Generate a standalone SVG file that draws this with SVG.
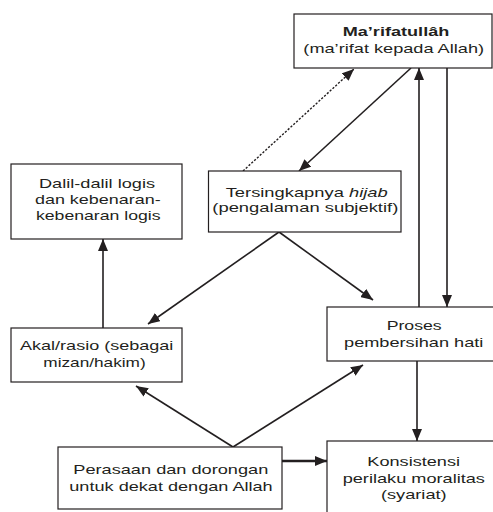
<svg xmlns="http://www.w3.org/2000/svg" width="493" height="512" viewBox="0 0 493 512">
<defs>
<style>
.box{fill:#fff;stroke:#231f20;stroke-width:1.2}
.t{font-family:"Liberation Sans",Arial,sans-serif;font-size:13.6px;fill:#231f20;text-anchor:middle}
.b{font-weight:bold}
.c{fill:none;stroke:#231f20;stroke-width:1.6}
.d{stroke-dasharray:2.2 1.6;stroke-width:1.4}
.k{stroke-width:2.6}
</style>
<marker id="ah" viewBox="0 0 12 10" refX="12" refY="5" markerWidth="12" markerHeight="10" markerUnits="userSpaceOnUse" orient="auto">
<path d="M0,0 L12,5 L0,10 Z" fill="#231f20"/>
</marker>
</defs>
<rect width="493" height="512" fill="#fff"/>
<g id="connectors">
<line class="c d" x1="243" y1="171" x2="354" y2="69" marker-end="url(#ah)"/>
<line class="c" x1="411" y1="68" x2="299" y2="171" marker-end="url(#ah)"/>
<line class="c" x1="419" y1="307" x2="419" y2="68" marker-end="url(#ah)"/>
<line class="c" x1="447" y1="68" x2="447" y2="307" marker-end="url(#ah)"/>
<line class="c" x1="103" y1="328" x2="103" y2="239" marker-end="url(#ah)"/>
<line class="c" x1="279" y1="232" x2="148" y2="324" marker-end="url(#ah)"/>
<line class="c" x1="279" y1="232" x2="373" y2="300" marker-end="url(#ah)"/>
<line class="c" x1="233" y1="447" x2="136" y2="386" marker-end="url(#ah)"/>
<line class="c" x1="233" y1="447" x2="363" y2="365" marker-end="url(#ah)"/>
<line class="c k" x1="282" y1="461" x2="327" y2="461" marker-end="url(#ah)"/>
<line class="c" x1="417" y1="361" x2="417" y2="441" marker-end="url(#ah)"/>
</g>
<g id="marifatullah">
<rect class="box" x="294" y="14" width="198" height="54"/>
<text class="t b" x="396" y="36" textLength="106.6" lengthAdjust="spacingAndGlyphs">Ma’rifatullâh</text>
<text class="t" x="393.7" y="53" textLength="180.7" lengthAdjust="spacingAndGlyphs">(ma’rifat kepada Allah)</text>
</g>
<g id="tersingkap">
<rect class="box" x="208.5" y="171" width="192.5" height="61"/>
<text class="t" x="306.7" y="197" textLength="162" lengthAdjust="spacingAndGlyphs">Tersingkapnya <tspan font-style="italic">hijab</tspan></text>
<text class="t" x="305.3" y="212" textLength="186" lengthAdjust="spacingAndGlyphs">(pengalaman subjektif)</text>
</g>
<g id="dalil">
<rect class="box" x="11" y="164" width="171" height="75"/>
<text class="t" x="97" y="188" textLength="116" lengthAdjust="spacingAndGlyphs">Dalil-dalil logis</text>
<text class="t" x="97.8" y="204" textLength="125.7" lengthAdjust="spacingAndGlyphs">dan kebenaran-</text>
<text class="t" x="98.3" y="220" textLength="124.7" lengthAdjust="spacingAndGlyphs">kebenaran logis</text>
</g>
<g id="akal">
<rect class="box" x="11" y="328" width="171" height="54"/>
<text class="t" x="96.7" y="350" textLength="153.3" lengthAdjust="spacingAndGlyphs">Akal/rasio (sebagai</text>
<text class="t" x="94.5" y="367" textLength="102.4" lengthAdjust="spacingAndGlyphs">mizan/hakim)</text>
</g>
<g id="proses">
<rect class="box" x="327" y="307" width="168" height="54"/>
<text class="t" x="414.2" y="330" textLength="55" lengthAdjust="spacingAndGlyphs">Proses</text>
<text class="t" x="413.7" y="347" textLength="139.3" lengthAdjust="spacingAndGlyphs">pembersihan hati</text>
</g>
<g id="perasaan">
<rect class="box" x="58" y="447" width="224" height="62"/>
<text class="t" x="170.8" y="474" textLength="195" lengthAdjust="spacingAndGlyphs">Perasaan dan dorongan</text>
<text class="t" x="171" y="491" textLength="203.4" lengthAdjust="spacingAndGlyphs">untuk dekat dengan Allah</text>
</g>
<g id="konsistensi">
<rect class="box" x="327" y="441" width="168" height="74"/>
<text class="t" x="413.7" y="466" textLength="92.7" lengthAdjust="spacingAndGlyphs">Konsistensi</text>
<text class="t" x="413.8" y="483" textLength="142.3" lengthAdjust="spacingAndGlyphs">perilaku moralitas</text>
<text class="t" x="413.8" y="499" textLength="65.7" lengthAdjust="spacingAndGlyphs">(syariat)</text>
</g>
</svg>
